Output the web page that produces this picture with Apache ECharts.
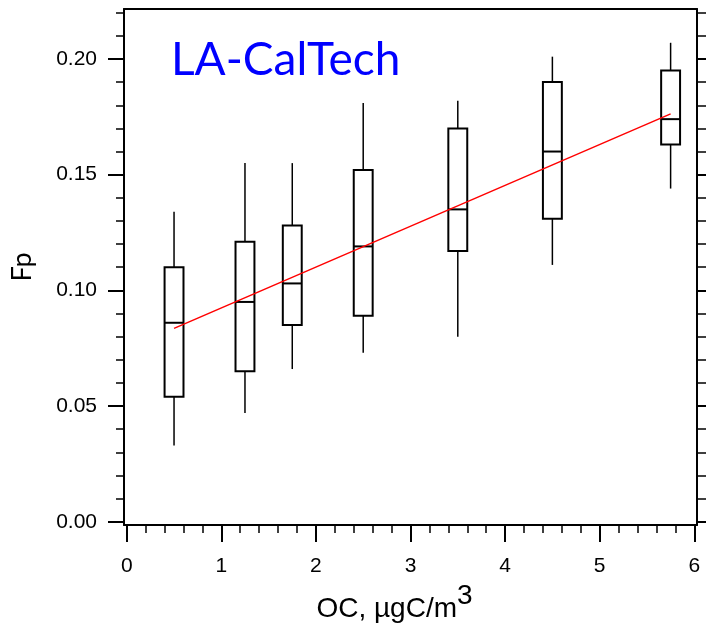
<!DOCTYPE html>
<html>
<head>
<meta charset="utf-8">
<script src="https://cdn.jsdelivr.net/npm/echarts@6/dist/echarts.min.js"></script>
<style>
  html, body { margin: 0; padding: 0; background: #fff; }
  #chart { width: 707px; height: 623px; }
</style>
</head>
<body>
<div id="chart"></div>
<script>
// box positions along OC (µgC/m3)
const ocCenters = [0.5, 1.25, 1.75, 2.5, 3.5, 4.5, 5.75];
const whiskerLow = [0.033, 0.047, 0.066, 0.073, 0.080, 0.111, 0.144];
const boxLow = [0.054, 0.065, 0.085, 0.089, 0.117, 0.131, 0.163];
const medians = [0.086, 0.095, 0.103, 0.119, 0.135, 0.160, 0.174];
const boxHigh = [0.110, 0.121, 0.128, 0.152, 0.170, 0.190, 0.195];
const whiskerHigh = [0.134, 0.155, 0.155, 0.181, 0.182, 0.201, 0.207];

// red regression line
const fitX = [0.5, 5.75];
const fitY = [0.0836, 0.1763];

// tick labels
const xMajorTicks = [0, 1, 2, 3, 4, 5, 6];
const xMinorTicks = [0.2, 0.4, 0.6, 0.8, 1.2, 1.4, 1.6, 1.8, 2.2, 2.4, 2.6, 2.8,
  3.2, 3.4, 3.6, 3.8, 4.2, 4.4, 4.6, 4.8, 5.2, 5.4, 5.6, 5.8];
const yMajorTicks = [0, 0.05, 0.10, 0.15, 0.20];
const yMinorTicks = [0.01, 0.02, 0.03, 0.04, 0.06, 0.07, 0.08, 0.09, 0.11, 0.12,
  0.13, 0.14, 0.16, 0.17, 0.18, 0.19, 0.21, 0.22];

const X_MIN = -0.029, X_MAX = 6.029;
const Y_MIN = -0.0014, Y_MAX = 0.2216;

const boxData = ocCenters.map((x, i) => [x, whiskerLow[i], boxLow[i], medians[i], boxHigh[i], whiskerHigh[i]]);
const fitData = fitX.map((x, i) => [x, fitY[i]]);

const chart = echarts.init(document.getElementById('chart'));

const black = '#000';
const labelFont = 'Liberation Sans, Arial, sans-serif';

// every axis shares the same frame; extra ones only carry ticks
function xAxisBase(extra) {
  return Object.assign({
    type: 'value', min: X_MIN, max: X_MAX, gridIndex: 0, offset: 0,
    splitLine: { show: false },
    axisLine: { show: false, onZero: false },
    axisTick: { show: false },
    axisLabel: { show: false }
  }, extra);
}
function yAxisBase(extra) {
  return Object.assign({
    type: 'value', min: Y_MIN, max: Y_MAX, gridIndex: 0, offset: 0,
    splitLine: { show: false },
    axisLine: { show: false, onZero: false },
    axisTick: { show: false },
    axisLabel: { show: false }
  }, extra);
}

const option = {
  backgroundColor: '#fff',
  animation: false,
  title: {
    text: 'LA-CalTech',
    left: 171,
    top: 37,
    padding: 0,
    textStyle: { color: '#0000ff', fontSize: 46, fontWeight: 'normal', fontFamily: 'Lato, sans-serif' }
  },
  grid: { left: 124, top: 9, width: 573, height: 516, containLabel: false, outerBoundsMode: 'none' },
  xAxis: [
    xAxisBase({
      position: 'bottom',
      axisLine: { show: true, onZero: false, lineStyle: { color: black, width: 2 } },
      axisTick: { show: true, customValues: xMajorTicks, length: 17, lineStyle: { color: black, width: 2 } },
      axisLabel: { show: true, customValues: xMajorTicks, margin: 31, color: black, fontSize: 21, fontFamily: labelFont },
      name: '{a|OC, µgC/m}{s|3}',
      nameLocation: 'middle',
      nameGap: 48,
      nameTextStyle: {
        padding: [0, 32, 0, 0],
        rich: {
          a: { fontSize: 28, color: black, fontFamily: labelFont },
          s: { fontSize: 28, color: black, fontFamily: labelFont, padding: [0, 0, 27, 0] }
        }
      }
    }),
    xAxisBase({
      position: 'bottom',
      axisTick: { show: true, customValues: xMinorTicks, length: 8, lineStyle: { color: black, width: 1.5 } }
    }),
    xAxisBase({
      position: 'top',
      axisLine: { show: true, onZero: false, lineStyle: { color: black, width: 2 } }
    })
  ],
  yAxis: [
    yAxisBase({
      position: 'left',
      axisLine: { show: true, onZero: false, lineStyle: { color: black, width: 2 } },
      axisTick: { show: true, customValues: yMajorTicks, length: 16, lineStyle: { color: black, width: 2 } },
      axisLabel: {
        show: true, customValues: yMajorTicks, margin: 27, color: black, fontSize: 21, fontFamily: labelFont,
        formatter: v => v.toFixed(2)
      },
      name: 'Fp',
      nameLocation: 'middle',
      nameRotate: 90,
      nameGap: 88,
      nameTextStyle: { fontSize: 27, color: black, fontFamily: 'Lato, sans-serif' }
    }),
    yAxisBase({
      position: 'left',
      axisTick: { show: true, customValues: yMinorTicks, length: 8, lineStyle: { color: black, width: 1.5 } }
    }),
    yAxisBase({
      position: 'right',
      axisLine: { show: true, onZero: false, lineStyle: { color: black, width: 2 } },
      axisTick: { show: true, customValues: yMajorTicks, length: 9, lineStyle: { color: black, width: 2 } }
    }),
    yAxisBase({
      position: 'right',
      axisTick: { show: true, customValues: yMinorTicks, length: 9, lineStyle: { color: black, width: 1.5 } }
    })
  ],
  series: [
    {
      name: 'Fp boxes',
      type: 'custom',
      xAxisIndex: 0,
      yAxisIndex: 0,
      data: boxData,
      renderItem: function (params, api) {
        const x = api.value(0);
        const halfW = api.size([0.2, 0])[0] / 2;
        const wl = api.coord([x, api.value(1)]);
        const bl = api.coord([x, api.value(2)]);
        const md = api.coord([x, api.value(3)]);
        const bh = api.coord([x, api.value(4)]);
        const wh = api.coord([x, api.value(5)]);
        const lineStyle = { stroke: black, lineWidth: 1.5, fill: null };
        const boxStyle = { stroke: black, lineWidth: 2, fill: '#fff' };
        return {
          type: 'group',
          children: [
            { type: 'line', shape: { x1: wl[0], y1: wl[1], x2: bl[0], y2: bl[1] }, style: lineStyle },
            { type: 'line', shape: { x1: bh[0], y1: bh[1], x2: wh[0], y2: wh[1] }, style: lineStyle },
            { type: 'rect', shape: { x: bh[0] - halfW, y: bh[1], width: halfW * 2, height: bl[1] - bh[1] }, style: boxStyle },
            { type: 'line', shape: { x1: md[0] - halfW, y1: md[1], x2: md[0] + halfW, y2: md[1] }, style: { stroke: black, lineWidth: 2 } }
          ]
        };
      },
      z: 2
    },
    {
      name: 'fit',
      type: 'line',
      xAxisIndex: 0,
      yAxisIndex: 0,
      data: fitData,
      symbol: 'none',
      lineStyle: { color: '#ff0000', width: 1.5 },
      z: 3
    }
  ]
};

chart.setOption(option);
</script>
</body>
</html>
